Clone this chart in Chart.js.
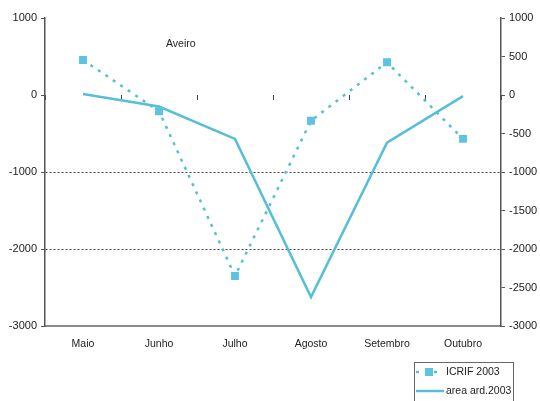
<!DOCTYPE html>
<html>
<head>
<meta charset="utf-8">
<script src="https://cdn.jsdelivr.net/npm/chart.js@4"></script>
<style>
  body { margin: 0; background: #fff; }
  canvas { display: block; }
</style>
</head>
<body>
<canvas id="chartCanvas" width="540" height="401"></canvas>
<script>
// Months on the x axis
const months = ['Maio', 'Junho', 'Julho', 'Agosto', 'Setembro', 'Outubro'];
// Series values
const icrif2003 = [455, -210, -2350, -335, 425, -570];
const areaArd2003 = [12, -150, -570, -2625, -620, -15];
// Axis settings
const leftTicks = [1000, 0, -1000, -2000, -3000];
const rightStep = 500;
const yMin = -3000;
const yMax = 1000;

const lineColor = '#55bfd8';
const markColor = '#5cc3e3';
const textColor = '#222';

// Title and legend drawn on the canvas, like the original spreadsheet chart
const extrasPlugin = {
    id: 'extras',
    afterDraw(chart) {
        const ctx = chart.ctx;
        ctx.save();
        ctx.fillStyle = textColor;
        ctx.font = '10.5px "Liberation Sans", Arial, sans-serif';
        ctx.textBaseline = 'middle';
        ctx.fillText('Aveiro', 166, 44);

        // legend box
        ctx.strokeStyle = '#666';
        ctx.lineWidth = 1;
        ctx.strokeRect(414.5, 362.5, 99, 60);

        // first entry: dashed line with square
        ctx.strokeStyle = lineColor;
        ctx.lineWidth = 2.5;
        ctx.setLineDash([3, 6]);
        ctx.beginPath();
        ctx.moveTo(416, 372);
        ctx.lineTo(442, 372);
        ctx.stroke();
        ctx.setLineDash([]);
        ctx.fillStyle = markColor;
        ctx.fillRect(425, 368, 8, 8);

        // second entry: solid line
        ctx.beginPath();
        ctx.moveTo(416, 391);
        ctx.lineTo(444, 391);
        ctx.stroke();

        ctx.fillStyle = textColor;
        ctx.font = '10.5px "Liberation Sans", Arial, sans-serif';
        ctx.fillText(chart.data.datasets[0].label, 446, 372);
        ctx.fillText(chart.data.datasets[1].label, 446, 391);
        ctx.restore();
    }
};

const plainNumber = value => String(value);

const ctx = document.getElementById('chartCanvas').getContext('2d');

let myChart = new Chart(ctx, {
    type: 'line',
    data: {
        labels: months,
        datasets: [{
            label: 'ICRIF 2003',
            data: icrif2003,
            borderColor: lineColor,
            borderWidth: 2.5,
            borderDash: [3, 6],
            pointStyle: 'rect',
            pointRadius: 5.6,
            pointBackgroundColor: markColor,
            pointBorderWidth: 0,
            tension: 0,
            fill: false
        }, {
            label: 'area ard.2003',
            data: areaArd2003,
            borderColor: lineColor,
            borderWidth: 2.5,
            pointRadius: 0,
            tension: 0,
            fill: false
        }]
    },
    options: {
        responsive: false,
        animation: false,
        layout: {
            padding: { top: 18, bottom: 45, left: 0, right: 0 }
        },
        scales: {
            x: {
                type: 'category',
                offset: true,
                grid: { display: false, drawTicks: false },
                border: { display: true, color: '#8a8a8a', width: 2 },
                ticks: {
                    color: textColor,
                    padding: 12,
                    maxRotation: 0,
                    font: { size: 10.5, family: '"Liberation Sans", Arial, sans-serif' }
                },
                afterFit: scale => { scale.height = 30; }
            },
            // tick marks along the zero line
            xZero: {
                type: 'category',
                labels: months,
                offset: true,
                position: { y: 0 },
                grid: {
                    offset: true,
                    drawOnChartArea: false,
                    drawTicks: true,
                    tickLength: 5,
                    tickColor: '#444',
                    lineWidth: 1
                },
                border: { display: false },
                ticks: { display: false }
            },
            y: {
                position: 'left',
                min: yMin,
                max: yMax,
                afterBuildTicks: scale => {
                    scale.ticks = leftTicks.map(v => ({ value: v }));
                },
                grid: {
                    color: c => (c.tick.value === -1000 || c.tick.value === -2000) ? '#444' : 'rgba(0,0,0,0)',
                    lineWidth: 1,
                    drawTicks: true,
                    tickLength: 4,
                    tickColor: '#555',
                    tickBorderDash: []
                },
                border: { display: true, color: '#555', width: 1.5, dash: [2, 2] },
                ticks: {
                    color: textColor,
                    padding: 4,
                    callback: plainNumber,
                    font: { size: 11, family: '"Liberation Sans", Arial, sans-serif' }
                },
                afterFit: scale => { scale.width = 45; }
            },
            y2: {
                position: 'right',
                min: yMin,
                max: yMax,
                grid: {
                    drawOnChartArea: false,
                    drawTicks: true,
                    tickLength: 4,
                    tickColor: '#555'
                },
                border: { display: true, color: '#555', width: 1.5 },
                ticks: {
                    stepSize: rightStep,
                    color: textColor,
                    padding: 4,
                    callback: plainNumber,
                    font: { size: 11, family: '"Liberation Sans", Arial, sans-serif' }
                },
                afterFit: scale => { scale.width = 39; }
            }
        },
        plugins: {
            legend: { display: false },
            tooltip: { enabled: false }
        }
    },
    plugins: [extrasPlugin]
});
</script>
</body>
</html>
